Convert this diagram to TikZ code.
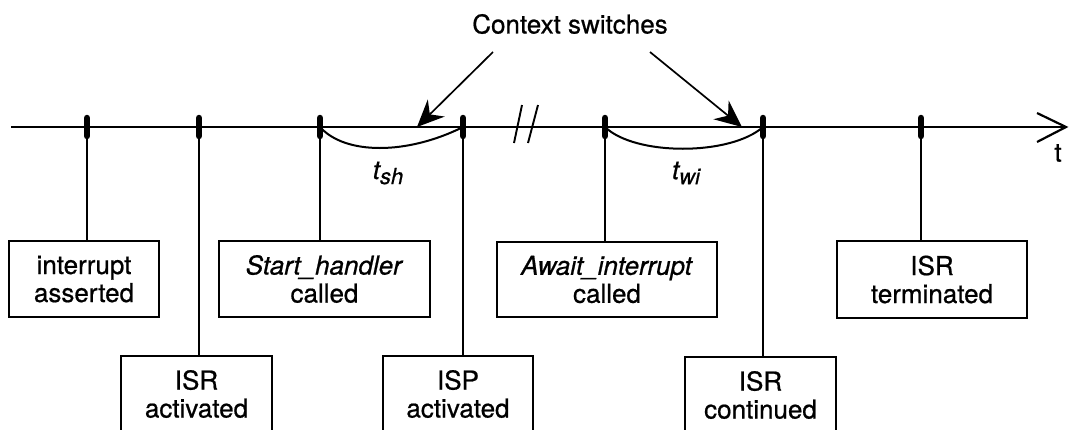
\documentclass[tikz,border=0pt]{standalone}
\usepackage{fontspec}
\setmainfont{TeX Gyre Heros}[FakeBold=0.7]
\usetikzlibrary{arrows.meta}
\begin{document}
\begin{tikzpicture}[x=1pt,y=-1pt,
  evbox/.style={draw, line width=1.5pt, inner sep=0pt, align=center,
    font=\fontsize{26}{28}\selectfont},
  tickmark/.style={line width=6.5pt, line cap=round},
  stem/.style={line width=1.6pt},
  ctxarrow/.style={line width=1.7pt, -{Stealth[length=27pt,width=24pt,inset=9pt]}},
  lbl/.style={font=\fontsize{26}{28}\selectfont, inner sep=0pt}]
\useasboundingbox (0,0) rectangle (1076,429);

% axis
\coordinate (axstart) at (11,127);
\coordinate (axend) at (1066,127);
\draw[line width=2.2pt] (axstart) -- (axend);
\draw[line width=2.2pt, line join=miter] (axend) ++(-29,-14) -- (axend) -- ++(-29,15);
\node[lbl] (tlab) at (1058,153) {t};

% break mark
\draw[line width=1.9pt] (522,105) -- (514,143);
\draw[line width=1.9pt] (538,105) -- (528,143);

% tick coordinates
\coordinate (k1) at (87,127);
\coordinate (k2) at (199,127);
\coordinate (k3) at (320,127);
\coordinate (k4) at (463,127);
\coordinate (k5) at (605,127);
\coordinate (k6) at (763,127);
\coordinate (k7) at (921,127);

% boxes
\node[evbox, minimum width=150pt, minimum height=76pt] (ia) at (84,279) {interrupt\\asserted};
\node[evbox, minimum width=211pt, minimum height=76pt] (sh) at (324.5,279) {\textit{Start\_handler}\\called};
\node[evbox, minimum width=220pt, minimum height=75pt] (aw) at (607,279.5) {\textit{Await\_interrupt}\\called};
\node[evbox, minimum width=190pt, minimum height=77pt] (te) at (932,279.5) {ISR\\terminated};
\node[evbox, minimum width=151pt, minimum height=76pt] (ra) at (196.5,394) {ISR\\activated};
\node[evbox, minimum width=150pt, minimum height=76pt] (pa) at (458,394) {ISP\\activated};
\node[evbox, minimum width=151pt, minimum height=76pt] (rc) at (760.5,395) {ISR\\continued};

% stems
\draw[stem] (k1) -- (k1 |- ia.north);
\draw[stem] (k2) -- (k2 |- ra.north);
\draw[stem] (k3) -- (k3 |- sh.north);
\draw[stem] (k4) -- (k4 |- pa.north);
\draw[stem] (k5) -- (k5 |- aw.north);
\draw[stem] (k6) -- (k6 |- rc.north);
\draw[stem] (k7) -- (k7 |- te.north);

% ticks
\foreach \k in {k1,k2,k3,k4,k5,k6,k7}
  \draw[tickmark] (\k) ++(0,-9) -- ++(0,18);

% durations
\draw[line width=2pt] (k3) .. controls (345,155) and (407,155) .. (k4);
\draw[line width=2pt] (k5) .. controls (635,156) and (730,156) .. (k6);
\node[lbl] (tsh) at (388,173) {\itshape t\raisebox{-5pt}{\fontsize{22}{22}\selectfont sh}};
\node[lbl] (twi) at (686,173) {\itshape t\raisebox{-5pt}{\fontsize{22}{22}\selectfont wi}};

% context switches
\node[lbl] (ctx) at (570,24) {Context switches};
\coordinate (c1s) at (493,52);
\coordinate (c1e) at (417,127);
\coordinate (c2s) at (650,52);
\coordinate (c2e) at (742,127);
\draw[ctxarrow] (c1s) -- (c1e);
\draw[ctxarrow] (c2s) -- (c2e);
\end{tikzpicture}
\end{document}
